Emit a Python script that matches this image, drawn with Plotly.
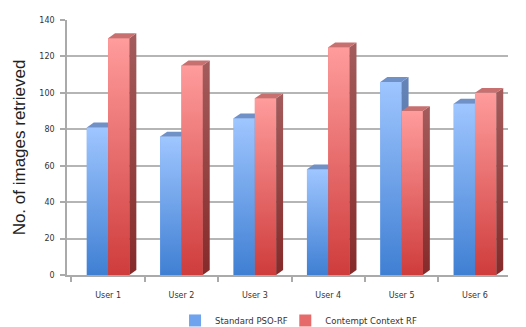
import plotly.graph_objects as go

categories = ["User 1", "User 2", "User 3", "User 4", "User 5", "User 6"]
standard_pso = [81, 76, 86, 58, 106, 94]
contempt_ctx = [130, 115, 97, 125, 90, 100]
y_ticks = [0, 20, 40, 60, 80, 100, 120, 140]

BW = 0.29      # bar width in category units
DX = 0.095     # 3D depth offset (x)
DY = 2.7       # 3D depth offset (y)

idx = list(range(len(categories)))
fig = go.Figure()

series = [
    # name, values, offset, mid, bottom, top, side_top, side_bottom, top_face, legend
    ("Standard PSO-RF", standard_pso, -BW, "#6fa3ee", "#3f7fd3", "#9fc6ff",
     "#6585b8", "#44659c", "#7090c8", "legend"),
    ("Contempt Context RF", contempt_ctx, 0.0, "#e76a6a", "#cf3c3c", "#ff9c9c",
     "#a45c5c", "#862a2a", "#c87070", "legend2"),
]

for name, vals, off, mid, bot, topc, s_t, s_b, tf, lg in series:
    fig.add_trace(go.Bar(
        x=idx, y=vals, name=name, width=BW, offset=off, legend=lg,
        marker=dict(color=mid, line=dict(width=0)),
    ))

# gradient shading of front faces and 3D faces (side & top), derived from the same data
for name, vals, off, mid, bot, topc, s_t, s_b, tf, lg in series:
    for i, v in zip(idx, vals):
        l = i + off
        r = l + BW
        fig.add_trace(go.Scatter(
            x=[l, r, r, l, l], y=[0, 0, v, v, 0], mode="lines", fill="toself",
            fillgradient=dict(type="vertical", colorscale=[[0, bot], [1, topc]]),
            line=dict(width=0), showlegend=False, hoverinfo="skip"))
        fig.add_trace(go.Scatter(
            x=[r, r + DX, r + DX, r, r], y=[0, DY, v + DY, v, 0], mode="lines",
            fill="toself",
            fillgradient=dict(type="vertical", colorscale=[[0, s_b], [1, s_t]]),
            line=dict(width=0), showlegend=False, hoverinfo="skip"))
        fig.add_trace(go.Scatter(
            x=[l, l + DX, r + DX, r, l], y=[v, v + DY, v + DY, v, v], mode="lines",
            fill="toself", fillcolor=tf,
            line=dict(width=0), showlegend=False, hoverinfo="skip"))

legend_common = dict(orientation="h", xanchor="left",
                     yref="container", y=0.02, yanchor="middle",
                     font=dict(size=8.5, color="#333333"), itemwidth=30,
                     bgcolor="rgba(0,0,0,0)")

fig.update_layout(
    width=526, height=327,
    margin=dict(l=67, r=18, t=20, b=52),
    paper_bgcolor="white", plot_bgcolor="white",
    font=dict(family="DejaVu Sans, sans-serif", size=8, color="#333333"),
    barmode="overlay",
    legend=dict(x=0.245, **legend_common),
    legend2=dict(x=0.495, **legend_common),
    xaxis=dict(
        range=[-0.56, 5.45], tickvals=idx, ticktext=categories,
        showgrid=False, zeroline=False, ticks="", automargin=False,
        ticklabelstandoff=12,
        showline=True, linecolor="#aaaaaa", linewidth=1.5,
        minor=dict(tickvals=[i - 0.5 for i in idx] + [5.5], ticks="outside",
                   ticklen=5, tickcolor="#aaaaaa", tickwidth=1.5),
        tickfont=dict(size=8, color="#333333"),
    ),
    yaxis=dict(
        range=[0, 140], tickvals=y_ticks, automargin=False,
        showgrid=True, gridcolor="#b5b5b5", gridwidth=1.5,
        zeroline=False, showline=True, linecolor="#aaaaaa", linewidth=1.5,
        ticks="outside", ticklen=5, tickcolor="#aaaaaa", tickwidth=1.5,
        ticklabelstandoff=4,
        tickfont=dict(size=8, color="#333333"),
        title=dict(text="No. of images retrieved",
                   font=dict(family="Liberation Sans, Arial, sans-serif", size=17, color="#222222"),
                   standoff=9),
    ),
)

fig.write_html("out.html")
